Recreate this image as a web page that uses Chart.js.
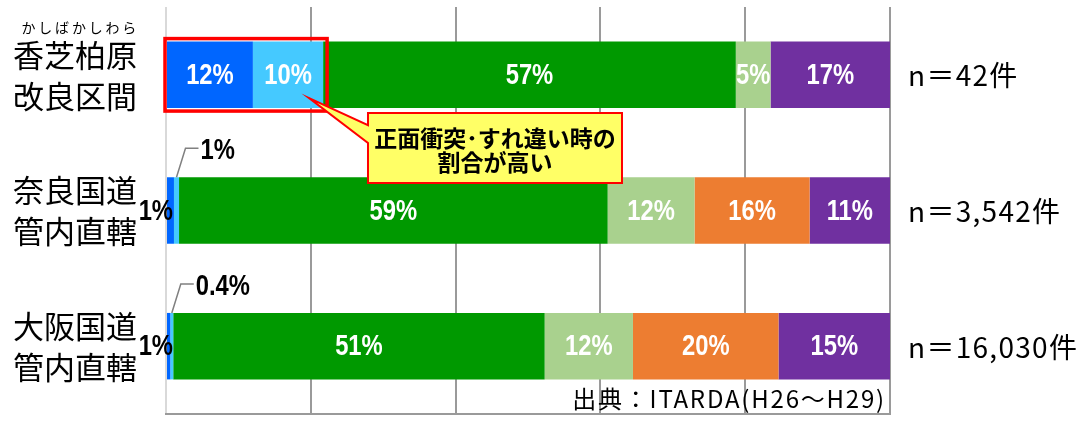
<!DOCTYPE html>
<html lang="ja">
<head>
<meta charset="utf-8">
<script src="https://cdn.jsdelivr.net/npm/chart.js@4.4.1/dist/chart.umd.min.js"></script>
<style>
    html, body { margin: 0; padding: 0; background: #fff; }
    #wrap { width: 1079px; height: 422px; position: relative; }
</style>
</head>
<body>
<div id="wrap"><canvas id="accident-chart"></canvas></div>
<script>
// categories (two-line labels) and sample sizes
const categories = [['香芝柏原', '改良区間'], ['奈良国道', '管内直轄'], ['大阪国道', '管内直轄']];
const rubyText = 'かしばかしわら';
const sampleLabels = ['n＝42件', 'n＝3,542件', 'n＝16,030件'];

// share of each accident type (%)
const headOn = [12, 1.1, 0.6];
const passing = [9.7, 0.7, 0.4];
const typeC = [57, 59.2, 51.3];
const typeD = [4.8, 12, 12.2];
const typeE = [0, 15.9, 20.1];
const typeF = [16.5, 11.1, 15.4];

const seriesNames = ['正面衝突', 'すれ違い時', '類型C', '類型D', '類型E', '類型F'];
const seriesColors = ['#0066FF', '#45C9FF', '#009900', '#A9D18E', '#ED7D31', '#7030A0'];
const xTicks = [0, 20, 40, 60, 80, 100];

const calloutLines = ['正面衝突･すれ違い時の', '割合が高い'];
const sourceText = '出典：ITARDA(H26～H29)';

const jpFont = '"Noto Sans CJK JP", "Noto Sans", sans-serif';
const numFont = '"Liberation Sans", Arial, sans-serif';

function fmt(v) {
    if (v < 0.5) return v.toFixed(1) + '%';
    return Math.round(v) + '%';
}

// condensed bold number text (no narrow font installed, so squeeze it)
function narrowText(ctx, text, x, y, align) {
    const sx = 0.82;
    ctx.save();
    ctx.font = 'bold 29px ' + numFont;
    ctx.textAlign = align;
    ctx.textBaseline = 'middle';
    ctx.translate(x, y);
    ctx.scale(sx, 1);
    ctx.fillText(text, 0, 0);
    ctx.restore();
}

const overlayPlugin = {
    id: 'overlay',
    afterDatasetsDraw(chart) {
        const ctx = chart.ctx;
        const area = chart.chartArea;
        ctx.save();

        // segment labels
        chart.data.datasets.forEach((ds, di) => {
            const meta = chart.getDatasetMeta(di);
            meta.data.forEach((bar, i) => {
                const v = ds.data[i];
                if (!v) return;
                const left = Math.min(bar.base, bar.x);
                const right = Math.max(bar.base, bar.x);
                const w = right - left;
                const text = fmt(v);
                if (w >= 25) {
                    ctx.fillStyle = '#fff';
                    narrowText(ctx, text, (left + right) / 2, bar.y + 1, 'center');
                } else if (di === 0) {
                    ctx.fillStyle = '#000';
                    narrowText(ctx, text, left + 6, bar.y + 1, 'right');
                } else {
                    const cx = (left + right) / 2;
                    const top = bar.y - bar.height / 2;
                    ctx.strokeStyle = '#808080';
                    ctx.lineWidth = 1.5;
                    ctx.beginPath();
                    ctx.moveTo(cx, top);
                    ctx.lineTo(cx + 9, top - 29);
                    ctx.lineTo(cx + 22, top - 29);
                    ctx.stroke();
                    ctx.fillStyle = '#000';
                    narrowText(ctx, text, cx + 24, top - 26, 'left');
                }
            });
        });

        // red highlight around the first two segments of the first bar
        const b0 = chart.getDatasetMeta(0).data[0];
        const b1 = chart.getDatasetMeta(1).data[0];
        const hTop = b0.y - b0.height / 2;
        const hBot = b0.y + b0.height / 2;
        ctx.strokeStyle = '#FF0000';
        ctx.lineWidth = 3.5;
        ctx.strokeRect(b0.base - 2, hTop - 3, b1.x - b0.base + 6, hBot - hTop + 6);

        // callout
        const xs = chart.scales.x;
        const bx = xs.getPixelForValue(27.9);
        const bw = 254;
        const by = hBot + 5;
        const bh = 70;
        const tipX = b1.x - 14;
        const tipY = hBot - 10;
        ctx.beginPath();
        ctx.moveTo(bx, by);
        ctx.lineTo(bx + bw, by);
        ctx.lineTo(bx + bw, by + bh);
        ctx.lineTo(bx, by + bh);
        ctx.lineTo(bx, by + 30);
        ctx.lineTo(tipX, tipY);
        ctx.lineTo(bx, by + 12);
        ctx.closePath();
        ctx.fillStyle = '#FFFF66';
        ctx.fill();
        ctx.strokeStyle = '#FF0000';
        ctx.lineWidth = 2;
        ctx.stroke();
        ctx.fillStyle = '#000';
        ctx.font = 'bold 23px ' + jpFont;
        ctx.textAlign = 'center';
        ctx.textBaseline = 'middle';
        ctx.fillText(calloutLines[0], bx + bw / 2, by + 25);
        ctx.fillText(calloutLines[1], bx + bw / 2, by + 49);

        // source note
        ctx.font = '24px ' + jpFont;
        ctx.letterSpacing = '1.8px';
        ctx.textAlign = 'right';
        ctx.textBaseline = 'alphabetic';
        ctx.fillText(sourceText, area.right - 4, area.bottom - 6);
        ctx.letterSpacing = '0px';

        ctx.restore();
    },
    afterDraw(chart) {
        const ctx = chart.ctx;
        const area = chart.chartArea;
        const ys = chart.scales.y;
        ctx.save();
        ctx.fillStyle = '#000';
        ctx.textBaseline = 'middle';
        categories.forEach((lines, i) => {
            const cy = ys.getPixelForValue(i);
            ctx.font = '31px ' + jpFont;
            ctx.textAlign = 'center';
            ctx.letterSpacing = '0px';
            ctx.fillText(lines[0], 75, cy - 20);
            ctx.fillText(lines[1], 75, cy + 21);
            ctx.font = '28px ' + jpFont;
            ctx.textAlign = 'left';
            ctx.letterSpacing = '1.3px';
            ctx.fillText(sampleLabels[i], area.right + 18, cy + 1);
        });
        ctx.letterSpacing = '0px';
        // furigana over the first label
        const cy0 = ys.getPixelForValue(0);
        ctx.font = '14px ' + jpFont;
        ctx.textAlign = 'center';
        const chars = Array.from(rubyText);
        chars.forEach((c, k) => {
            ctx.fillText(c, 28.5 + k * 16.8, cy0 - 47);
        });
        ctx.restore();
    }
};

document.addEventListener('DOMContentLoaded', function() {
    const canvas = document.getElementById('accident-chart');
    const seriesData = [headOn, passing, typeC, typeD, typeE, typeF];

    const data = {
        labels: categories.map(l => l.join('')),
        datasets: seriesData.map((d, i) => ({
            label: seriesNames[i],
            data: d,
            backgroundColor: seriesColors[i],
            borderWidth: 0,
            categoryPercentage: 1,
            barPercentage: 0.49
        }))
    };

    const config = {
        type: 'bar',
        data: data,
        options: {
            indexAxis: 'y',
            responsive: true,
            maintainAspectRatio: false,
            animation: false,
            layout: { padding: { left: 166, right: 189, top: 7, bottom: 8 } },
            scales: {
                x: {
                    stacked: true,
                    min: 0,
                    max: 100,
                    afterBuildTicks: function(axis) {
                        axis.ticks = xTicks.map(v => ({ value: v }));
                    },
                    ticks: { display: false },
                    grid: {
                        drawTicks: false,
                        lineWidth: 2,
                        color: function(c) {
                            return c.tick && c.tick.value === 0 ? '#D9D9D9' : '#9A9A9A';
                        }
                    },
                    border: { display: true, color: '#9A9A9A', width: 2 }
                },
                y: {
                    stacked: true,
                    display: false
                }
            },
            plugins: {
                legend: { display: false },
                tooltip: { enabled: false }
            }
        },
        plugins: [overlayPlugin]
    };

    new Chart(canvas, config);
});
</script>
</body>
</html>
